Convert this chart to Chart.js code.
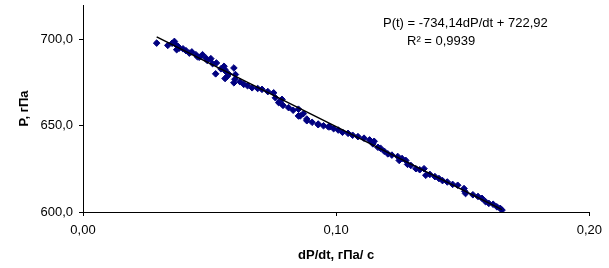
<!DOCTYPE html>
<html>
<head>
<meta charset="utf-8">
<script src="https://cdn.jsdelivr.net/npm/chart.js@4/dist/chart.umd.min.js"></script>
<style>
  html, body { margin: 0; padding: 0; background: #fff; }
  #wrap { width: 609px; height: 268px; }
</style>
</head>
<body>
<div id="wrap"><canvas id="chart" width="609" height="268"></canvas></div>
<script>
// ─── DATA ──────────────────────────────────────────────────
const dpdt = [
    0.0291, 0.0335, 0.0352, 0.0361, 0.0367, 0.0370, 0.0375, 0.0380, 0.0395, 0.0407,
    0.0420, 0.0430, 0.0446, 0.0452, 0.0459, 0.0472, 0.0485, 0.0491, 0.0505, 0.0512,
    0.0527, 0.0524, 0.0545, 0.0557, 0.0560, 0.0563, 0.0570, 0.0561, 0.0575, 0.0596,
    0.0602, 0.0596, 0.0600, 0.0620, 0.0635, 0.0650, 0.0668, 0.0690, 0.0707, 0.0730,
    0.0753, 0.0760, 0.0773, 0.0786, 0.0790, 0.0812, 0.0830, 0.0851, 0.0851, 0.0858,
    0.0870, 0.0884, 0.0884, 0.0905, 0.0929, 0.0929, 0.0950, 0.0969, 0.0975, 0.0990,
    0.1008, 0.1025, 0.1047, 0.1065, 0.1086, 0.1110, 0.1132, 0.1140, 0.1145, 0.1150,
    0.1165, 0.1175, 0.1190, 0.1204, 0.1220, 0.1243, 0.1249, 0.1260, 0.1275, 0.1282,
    0.1295, 0.1315, 0.1330, 0.1347, 0.1354, 0.1370, 0.1390, 0.1406, 0.1420, 0.1439,
    0.1460, 0.1480, 0.1505, 0.1511, 0.1508, 0.1540, 0.1560, 0.1576, 0.1590, 0.1603,
    0.1620, 0.1635, 0.1648, 0.1655,
];
const pressure = [
    697.9, 696.6, 697.8, 698.9, 697.0, 694.1, 696.0, 695.0, 694.6, 693.5,
    692.1, 692.8, 691.2, 690.0, 689.7, 691.2, 689.3, 687.8, 688.9, 686.0,
    686.4, 680.1, 683.0, 684.5, 682.6, 681.6, 678.7, 677.4, 680.0, 683.5,
    679.7, 674.9, 677.0, 675.5, 674.0, 673.2, 672.0, 671.6, 671.1, 669.8,
    669.1, 666.2, 663.4, 665.3, 661.8, 660.5, 659.0, 659.6, 655.7, 655.7,
    657.0, 653.9, 652.9, 652.0, 651.0, 650.6, 650.0, 649.4, 649.4, 648.3,
    647.5, 646.2, 645.6, 644.5, 643.7, 642.8, 641.8, 640.5, 639.5, 641.0,
    637.5, 637.0, 635.2, 633.7, 633.0, 632.2, 629.9, 631.0, 629.9, 627.6,
    627.0, 625.1, 624.5, 625.1, 621.3, 621.8, 620.5, 619.4, 618.2, 617.4,
    616.0, 615.5, 613.6, 610.7, 612.0, 610.0, 609.0, 607.9, 606.0, 605.0,
    604.5, 603.0, 602.1, 601.1,
];

// linear trend from the reference: P(t) = -734,14dP/dt + 722,92
const slope = -734.14;
const intercept = 722.92;
const rSquared = 0.9939;

const xTicks = [0.00, 0.10, 0.20];
const yTicks = [600, 650, 700];

// ─── BUILD ─────────────────────────────────────────────────
const points = dpdt.map((x, i) => ({ x, y: pressure[i] }));
const xMin = Math.min(...dpdt);
const xMax = Math.max(...dpdt);
const trend = [xMin, xMax].map(x => ({ x, y: slope * x + intercept }));

const comma = (v, d) => v.toFixed(d).replace(".", ",");
const FONT = "'Liberation Sans', Arial, sans-serif";

const equationLabel = {
    id: "equationLabel",
    afterDraw(chart) {
        const ctx = chart.ctx;
        ctx.save();
        ctx.fillStyle = "#000";
        ctx.font = `13px ${FONT}`;
        ctx.textBaseline = "middle";
        ctx.textAlign = "left";
        ctx.fillText(`P(t) = ${comma(slope, 2)}dP/dt + ${comma(intercept, 2)}`, 383, 23);
        ctx.fillText(`R² = ${comma(rSquared, 4)}`, 407, 41);
        ctx.restore();
    },
};

new Chart(document.getElementById("chart"), {
    type: "scatter",
    data: {
        datasets: [
            {
                label: "P",
                data: points,
                backgroundColor: "#000080",
                borderColor: "#000080",
                pointStyle: "rectRot",
                pointRadius: 3.3,
                borderWidth: 1,
                order: 2,
            },
            {
                label: "trend",
                type: "line",
                data: trend,
                borderColor: "#000",
                borderWidth: 1.5,
                pointRadius: 0,
                fill: false,
                order: 1,
            },
        ],
    },
    options: {
        responsive: false,
        animation: false,
        layout: { padding: { top: 3, right: 14, left: 0, bottom: 0 } },
        plugins: {
            legend: { display: false },
            tooltip: { enabled: false },
        },
        scales: {
            x: {
                type: "linear",
                min: 0,
                max: 0.2,
                afterBuildTicks: s => { s.ticks = xTicks.map(v => ({ value: v })); },
                afterFit: s => { s.height = 56; },
                border: { display: true, color: "#000", width: 1 },
                grid: { display: true, drawOnChartArea: false, drawTicks: true, tickLength: 4, color: "#000" },
                ticks: {
                    color: "#000",
                    font: { family: FONT, size: 13 },
                    padding: 7,
                    maxRotation: 0,
                    callback: v => comma(v, 2),
                },
                title: {
                    display: true,
                    text: "dP/dt, гПа/ с",
                    color: "#000",
                    font: { family: FONT, size: 13, weight: "bold" },
                    padding: { top: 0, bottom: 5 },
                },
            },
            y: {
                type: "linear",
                min: 600,
                max: 720,
                afterBuildTicks: s => { s.ticks = yTicks.map(v => ({ value: v })); },
                afterFit: s => { s.width = 83; s.paddingTop = 0; s.paddingBottom = 0; },
                border: { display: true, color: "#000", width: 1 },
                grid: { display: true, drawOnChartArea: false, drawTicks: true, tickLength: 4, color: "#000" },
                ticks: {
                    color: "#000",
                    font: { family: FONT, size: 13 },
                    padding: 6,
                    callback: v => comma(v, 1),
                },
                title: {
                    display: true,
                    text: "P, гПа",
                    color: "#000",
                    font: { family: FONT, size: 13, weight: "bold" },
                    padding: { top: 17, bottom: 0 },
                },
            },
        },
    },
    plugins: [equationLabel],
});
</script>
</body>
</html>
